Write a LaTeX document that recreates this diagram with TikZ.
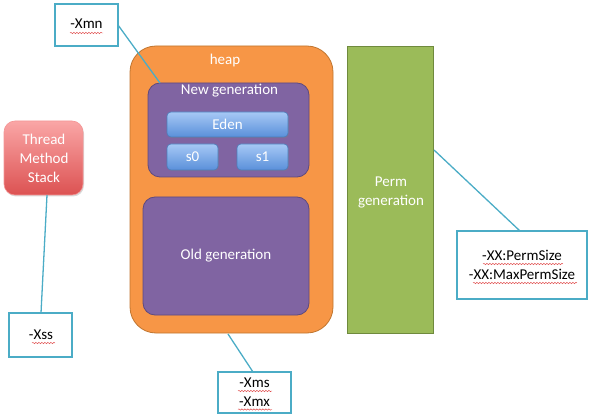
\documentclass[tikz,border=0pt]{standalone}
\usepackage{fontspec}
\setmainfont{Carlito}
\usetikzlibrary{decorations.pathmorphing,shadows}
\definecolor{heapor}{HTML}{F79646}
\definecolor{heapbd}{HTML}{C0752F}
\definecolor{genpu}{HTML}{8064A2}
\definecolor{genbd}{HTML}{5E4A7E}
\definecolor{permgr}{HTML}{9BBB59}
\definecolor{permbd}{HTML}{6F8A3D}
\definecolor{cyanln}{HTML}{4BACC6}
\definecolor{bluetop}{HTML}{A6C8F5}
\definecolor{bluebot}{HTML}{5A90DA}
\definecolor{bluebd}{HTML}{4A7EBB}
\definecolor{redtop}{HTML}{FAA6A6}
\definecolor{redbot}{HTML}{DC5252}
\definecolor{spellred}{HTML}{E04848}
\begin{document}
\begin{tikzpicture}[x=1pt,y=-1pt,
  every node/.style={font=\fontsize{15}{19}\selectfont, inner sep=0pt, outer sep=0pt},
  wtext/.style={text=white, align=center},
  btext/.style={text=black, align=center},
  heapbox/.style={fill=heapor, draw=heapbd, line width=0.8pt, rounded corners=26pt},
  genbox/.style={fill=genpu, draw=genbd, line width=0.8pt, rounded corners=12pt},
  bluebox/.style={top color=bluetop, bottom color=bluebot, draw=bluebd, line width=0.6pt, rounded corners=4pt,
     drop shadow={opacity=0.35, shadow xshift=0.8pt, shadow yshift=-1.2pt}},
  redbox/.style={top color=redtop, bottom color=redbot, draw=redtop!80!redbot, line width=0.6pt, rounded corners=11pt,
     drop shadow={opacity=0.3, shadow xshift=1pt, shadow yshift=-1.5pt}},
  permbox/.style={fill=permgr, draw=permbd, line width=0.8pt},
  notebox/.style={draw=cyanln, line width=1.3pt, fill=white},
  link/.style={draw=cyanln, line width=1.3pt},
  wavy/.style={draw=spellred, line width=0.45pt, decorate, decoration={snake, amplitude=0.7pt, segment length=3pt}}
]
\useasboundingbox (0,0) rectangle (591,419);

% heap
\node[heapbox, minimum width=203pt, minimum height=287pt] (heap) at (231.5,189.5) {};
\node[wtext] (heapt) at (225,61) {heap};
% new generation
\node[genbox, minimum width=161pt, minimum height=94pt] (newgen) at (228.5,130) {};
\node[wtext] (newgent) at (229.5,91) {New generation};
\node[bluebox, minimum width=121pt, minimum height=25pt] (eden) at (227.5,124.5) {};
\node[wtext] at (eden) {Eden};
\node[bluebox, minimum width=51pt, minimum height=26pt] (s0) at (192.5,157) {};
\node[wtext] at (s0) {s0};
\node[bluebox, minimum width=51pt, minimum height=26pt] (s1) at (262.5,157) {};
\node[wtext] at (s1) {s1};
% old generation
\node[genbox, minimum width=166pt, minimum height=118pt] (oldgen) at (226,256) {};
\node[wtext] at (oldgen) {Old generation};
% perm
\node[permbox, minimum width=86pt, minimum height=287pt] (perm) at (390,189.5) {};
\node[wtext] at (391,192) {Perm\\generation};
% thread stack
\node[redbox, minimum width=79pt, minimum height=74pt] (stack) at (43.5,158) {};
\node[wtext] at (44,158) {Thread\\Method\\Stack};

% note boxes
\node[notebox, minimum width=63pt, minimum height=42pt] (xmn) at (86.5,25) {};
\node[btext] (xmnt) at (86.5,24) {-Xmn};
\node[notebox, minimum width=63pt, minimum height=44pt] (xss) at (40.5,335) {};
\node[btext] (xsst) at (41,335) {-Xss};
\node[notebox, minimum width=73pt, minimum height=41pt] (xms) at (254.5,392.5) {};
\node[btext] (xmst) at (254.5,392) {-Xms\\-Xmx};
\node[notebox, minimum width=130pt, minimum height=68pt] (perms) at (522,265) {};
\node[btext] (permst) at (522,265) {-XX:PermSize\\-XX:MaxPermSize};

% connectors
\coordinate (xmnend) at (160,83);
\draw[link] (xmn.east |- 0,25) -- (xmnend);
\coordinate (stackend) at (47,195);
\draw[link] (stackend) -- (xss.north -| 41,0);
\coordinate (heapend) at (228,334);
\draw[link] (heapend) -- (xms.north -| 253,0);
\coordinate (permend) at (434,150);
\draw[link] (permend) -- (perms.north -| 520,0);

% spell-check underlines
\draw[wavy] (70,33) -- (103,33);
\draw[wavy] (32,343) -- (55,343);
\draw[wavy] (238,391) -- (272,391);
\draw[wavy] (238,409.5) -- (272,409.5);
\draw[wavy] (483,264) -- (563,264);
\draw[wavy] (473,283) -- (577,283);
\end{tikzpicture}
\end{document}
